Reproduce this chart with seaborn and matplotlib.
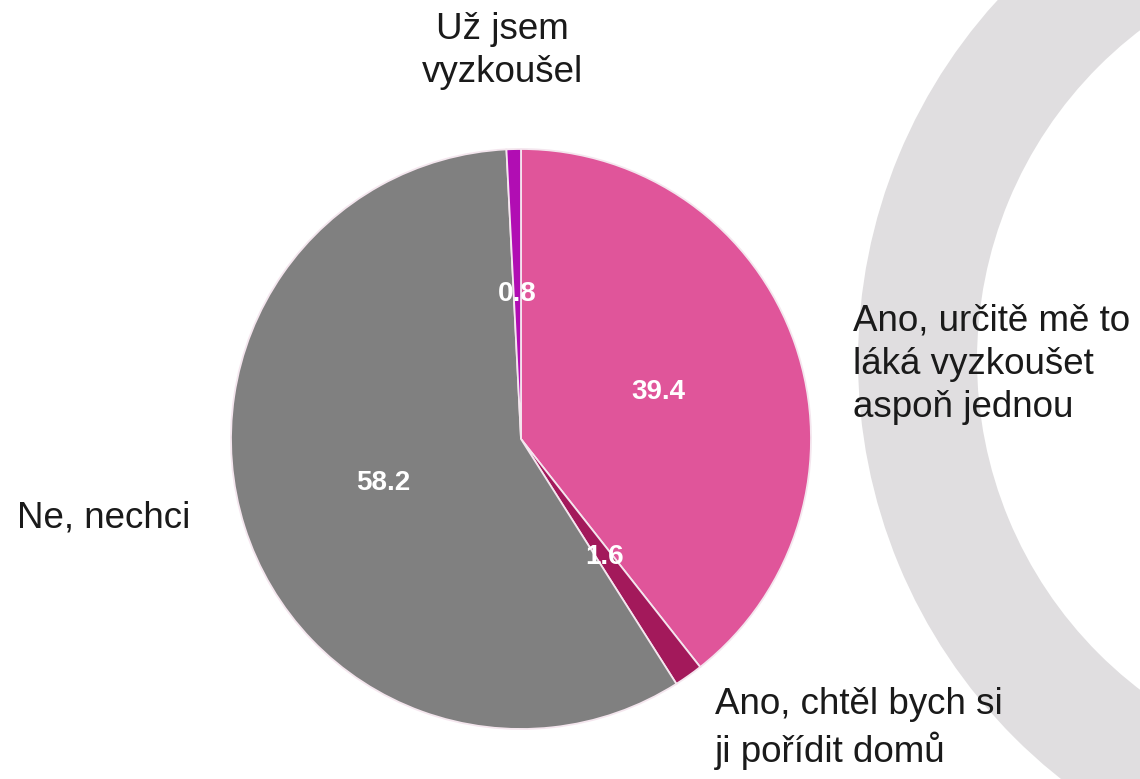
import numpy as np
import pandas as pd
import matplotlib
matplotlib.use("Agg")
import matplotlib.pyplot as plt
from matplotlib.patches import Annulus
import seaborn as sns

# ----------------------------------------------
# Data (clockwise from 12 o'clock)
# ----------------------------------------------
answers = [
    "Ano, určitě mě to\nláká vyzkoušet\naspoň jednou",
    "Ano, chtěl bych si\nji pořídit domů",
    "Ne, nechci",
    "Už jsem\nvyzkoušel",
]
shares = [39.4, 1.6, 58.2, 0.8]
colors = ["#e0559a", "#a3195b", "#808080", "#b10db3"]

df = pd.DataFrame({"answer": answers, "share": shares, "color": colors})

# ----------------------------------------------
# Style
# ----------------------------------------------
sns.set_theme(style="white")
plt.rcParams["font.family"] = ["Liberation Sans", "DejaVu Sans"]

W, H = 1140, 779
fig = plt.figure(figsize=(W / 100, H / 100), dpi=100)
fig.patch.set_facecolor("white")

# background decoration + labels, in pixel coordinates
bg = fig.add_axes([0, 0, 1, 1])
bg.set_xlim(0, W)
bg.set_ylim(H, 0)
bg.axis("off")
bg.add_patch(Annulus((1392, 360), 534, 119, color="#e0dee0", lw=0))

# pie axes: centre (521, 439), radius 290 px
cx, cy, r = 521, 439, 290
ax = fig.add_axes([(cx - r) / W, (H - cy - r) / H, 2 * r / W, 2 * r / H])
wedges, _, autotexts = ax.pie(
    df["share"], colors=df["color"], startangle=90, counterclock=False,
    autopct="%.1f", pctdistance=0.5,
    wedgeprops=dict(edgecolor="#f4e6ee", linewidth=1.3),
    textprops=dict(color="white", fontsize=20, fontweight="bold"),
)
ax.set_xlim(-1, 1)
ax.set_ylim(-1, 1)
ax.axis("off")
for w in wedges:
    w.set_clip_on(False)

# outside category labels (y = baseline of the last line)
txt = dict(fontsize=26.5, color="#1a1a1a", linespacing=1.3)
bg.text(502, 82, df["answer"][3], ha="center", va="baseline", multialignment="center", **txt)
bg.text(853, 417, df["answer"][0], ha="left", va="baseline", **txt)
bg.text(17, 527, df["answer"][2], ha="left", va="baseline", **txt)
bg.text(715, 762, df["answer"][1], ha="left", va="baseline", **txt)

fig.savefig("out.png", dpi=100, facecolor="white")
